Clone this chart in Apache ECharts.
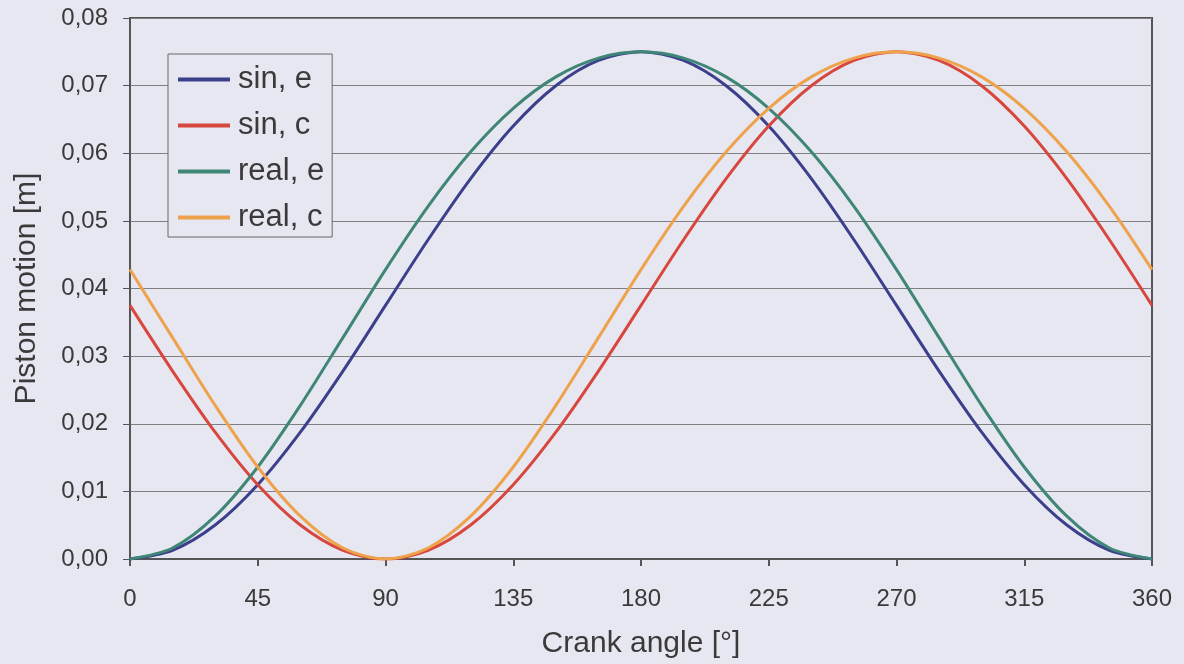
<!DOCTYPE html>
<html>
<head>
<meta charset="utf-8">
<script src="https://cdn.jsdelivr.net/npm/echarts@6/dist/echarts.min.js"></script>
<style>
html,body{margin:0;padding:0;background:#e8e8f2;}
#c{width:1184px;height:664px;}
</style>
</head>
<body>
<div id="c"></div>
<script>
// Crank angle [°]
const angles = [0,15,30,45,60,75,90,105,120,135,150,165,180,195,210,225,240,255,270,285,300,315,330,345,360];
const xTicks = [0,45,90,135,180,225,270,315,360];
const yTickLabels = ['0,00','0,01','0,02','0,03','0,04','0,05','0,06','0,07','0,08'];
const seriesNames = ['sin, e','sin, c','real, e','real, c'];
// Piston motion [m]
const sinE  = [0,0.00128,0.00502,0.01098,0.01875,0.02779,0.0375,0.04721,0.05625,0.06402,0.06998,0.07372,0.075,0.07372,0.06998,0.06402,0.05625,0.04721,0.0375,0.02779,0.01875,0.01098,0.00502,0.00128,0];
const sinC  = [0.0375,0.02779,0.01875,0.01098,0.00502,0.00128,0,0.00128,0.00502,0.01098,0.01875,0.02779,0.0375,0.04721,0.05625,0.06402,0.06998,0.07372,0.075,0.07372,0.06998,0.06402,0.05625,0.04721,0.0375];
const realE = [0,0.00163,0.00633,0.0136,0.02271,0.03273,0.0428,0.05215,0.06021,0.06664,0.07129,0.07407,0.075,0.07407,0.07129,0.06664,0.06021,0.05215,0.0428,0.03273,0.02271,0.0136,0.00633,0.00163,0];
const realC = [0.0428,0.03273,0.02271,0.0136,0.00633,0.00163,0,0.00163,0.00633,0.0136,0.02271,0.03273,0.0428,0.05215,0.06021,0.06664,0.07129,0.07407,0.075,0.07407,0.07129,0.06664,0.06021,0.05215,0.0428];

const colors = ['#3b3f8c','#d8473d','#3f8676','#eea24c'];
const values = [sinE, sinC, realE, realC];
const font = 'Liberation Sans, Arial, sans-serif';
const textColor = '#3a3a3a';

const chart = echarts.init(document.getElementById('c'), null, {renderer:'canvas'});
chart.setOption({
  backgroundColor: '#e7e7f1',
  animation: false,
  grid: {left:130, right:32, top:18, bottom:103, show:true, borderColor:'#555', borderWidth:2, backgroundColor:'transparent'},
  legend: {
    orient:'vertical', left:168, top:54,
    data: seriesNames,
    icon:'rect', itemWidth:52, itemHeight:4, itemGap:15,
    padding:[10,8,4,10],
    borderColor:'#666', borderWidth:1, backgroundColor:'#e7e7f1',
    textStyle:{fontFamily:font, fontSize:31, color:textColor, lineHeight:30, padding:[0,0,0,3]}
  },
  xAxis: {
    type:'value', min:0, max:360, interval:45,
    name:'Crank angle [°]', nameLocation:'middle', nameGap:70,
    nameTextStyle:{fontFamily:font, fontSize:30, color:textColor},
    axisLine:{show:true, lineStyle:{color:'#555', width:2}},
    axisTick:{show:true, length:7, lineStyle:{color:'#555', width:2}},
    axisLabel:{fontFamily:font, fontSize:24, color:textColor, margin:28,
      formatter: v => xTicks.includes(v) ? String(v) : ''},
    splitLine:{show:false}
  },
  yAxis: {
    type:'value', min:0, max:0.08, interval:0.01,
    name:'Piston motion [m]', nameLocation:'middle', nameGap:88, nameRotate:90,
    nameTextStyle:{fontFamily:font, fontSize:30, color:textColor},
    axisLine:{show:true, lineStyle:{color:'#555', width:2}},
    axisTick:{show:true, length:7, lineStyle:{color:'#555', width:1}},
    axisLabel:{fontFamily:font, fontSize:24, color:textColor, margin:22,
      formatter: v => yTickLabels[Math.round(v/0.01)]},
    splitLine:{show:true, lineStyle:{color:'#808080', width:1}}
  },
  series: seriesNames.map((n,i) => ({
    name:n, type:'line', smooth:0.3, showSymbol:false, symbol:'none',
    data: angles.map((a,k) => [a, values[i][k]]),
    lineStyle:{color:colors[i], width:3},
    itemStyle:{color:colors[i]},
    z: 2 + i
  }))
});
</script>
</body>
</html>
